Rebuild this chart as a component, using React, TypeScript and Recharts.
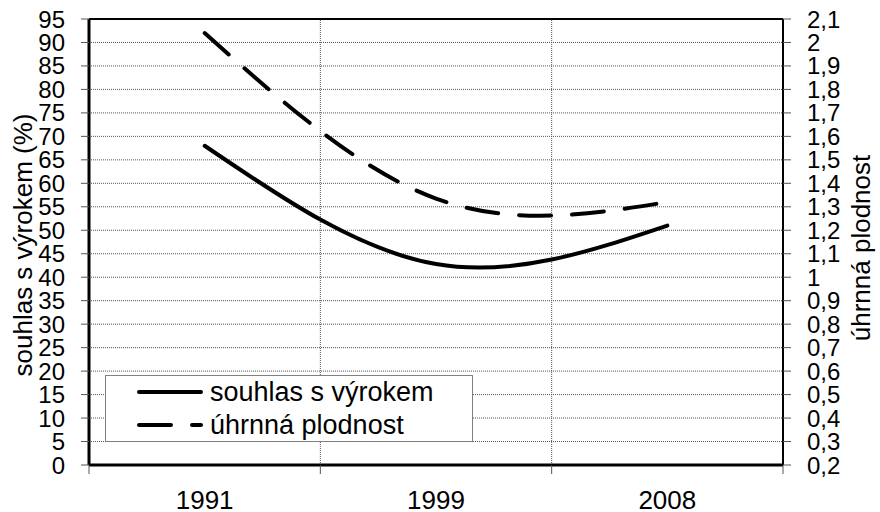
import React from 'react';
import {
  ComposedChart,
  Line,
  XAxis,
  YAxis,
  CartesianGrid,
  ReferenceLine,
  Legend,
} from 'recharts';

const years = ['1991', '1999', '2008'];
const agreement = [68, 42.8, 51]; // souhlas s výrokem (%)
const fertility = [2.04, 1.335, 1.32]; // úhrnná plodnost

const leftTicks = [0, 5, 10, 15, 20, 25, 30, 35, 40, 45, 50, 55, 60, 65, 70, 75, 80, 85, 90, 95];
const rightTicks = [0.2, 0.3, 0.4, 0.5, 0.6, 0.7, 0.8, 0.9, 1, 1.1, 1.2, 1.3, 1.4, 1.5, 1.6, 1.7, 1.8, 1.9, 2, 2.1];
const xTicks = [0, 0.5, 1, 1.5, 2, 2.5, 3];
const categoryEdges = [1, 2];

const series = [
  { key: 'agreement', name: 'souhlas s výrokem', axis: 'left', dash: undefined as string | undefined },
  { key: 'fertility', name: 'úhrnná plodnost', axis: 'right', dash: '32 21' },
];

const data = years.map((year, i) => ({
  pos: i + 0.5,
  year,
  agreement: agreement[i],
  fertility: fertility[i],
}));

const FONT = '"Liberation Sans", Arial, sans-serif';

const XTick = (props: any) => {
  const { x, y, payload } = props;
  const v = payload.value;
  if (Number.isInteger(v)) {
    return <line x1={x} y1={y} x2={x} y2={y + 9} stroke="#555" strokeWidth={1} />;
  }
  const idx = Math.floor(v);
  return (
    <text x={x} y={y + 44} textAnchor="middle" fontSize={26} fontFamily={FONT} fill="#000">
      {years[idx]}
    </text>
  );
};

const LegendBox = () => (
  <div
    style={{
      width: 368,
      height: 67,
      boxSizing: 'border-box',
      border: '1px solid #808080',
      background: '#fff',
    }}
  >
    <svg width={366} height={65}>
      {series.map((s, i) => {
        const cy = 16 + i * 33;
        return (
          <g key={s.key}>
            <line
              x1={33}
              y1={cy}
              x2={95}
              y2={cy}
              stroke="#000"
              strokeWidth={4}
              strokeLinecap="round"
              strokeDasharray={s.dash}
            />
            <text x={104} y={cy} dy="0.33em" fontSize={27} fontFamily={FONT} fill="#000">
              {s.name}
            </text>
          </g>
        );
      })}
    </svg>
  </div>
);

const LeftTitle = (props: any) => {
  const { viewBox } = props;
  const cy = viewBox.y + viewBox.height / 2 + 3;
  return (
    <text
      x={32}
      y={cy}
      transform={`rotate(-90, 32, ${cy})`}
      textAnchor="middle"
      fontSize={26}
      fontFamily={FONT}
      fill="#000"
    >
      souhlas s výrokem (%)
    </text>
  );
};

const RightTitle = (props: any) => {
  const { viewBox } = props;
  const cy = viewBox.y + viewBox.height / 2 + 6;
  return (
    <text
      x={870}
      y={cy}
      transform={`rotate(-90, 870, ${cy})`}
      textAnchor="middle"
      fontSize={26}
      fontFamily={FONT}
      fill="#000"
    >
      úhrnná plodnost
    </text>
  );
};

export default function App() {
  return (
    <div style={{ position: 'absolute', left: 0, top: 0, width: 880, height: 512, background: '#fff' }}>
      <ComposedChart
        width={880}
        height={512}
        data={data}
        margin={{ top: 19, right: 0, bottom: 0, left: 0 }}
      >
        <CartesianGrid
          yAxisId="left"
          vertical={false}
          stroke="#555"
          strokeDasharray="1 1"
        />
        <XAxis
          dataKey="pos"
          type="number"
          domain={[0, 3]}
          ticks={xTicks}
          interval={0}
          height={47}
          tickLine={false}
          tickSize={0}
          tickMargin={0}
          axisLine={{ stroke: '#000', strokeWidth: 3 }}
          tick={<XTick />}
        />
        <YAxis
          yAxisId="left"
          orientation="left"
          width={89}
          domain={[0, 95]}
          ticks={leftTicks}
          interval={0}
          tickSize={8}
          tickMargin={16}
          tickLine={{ stroke: '#555' }}
          axisLine={{ stroke: '#000', strokeWidth: 3 }}
          tick={{ fontSize: 24, fontFamily: FONT, fill: '#000' }}
          label={<LeftTitle />}
        />
        <YAxis
          yAxisId="right"
          orientation="right"
          width={97}
          domain={[0.2, 2.1]}
          ticks={rightTicks}
          interval={0}
          tickSize={8}
          tickMargin={16}
          tickLine={{ stroke: '#555' }}
          axisLine={{ stroke: '#000', strokeWidth: 2 }}
          tick={{ fontSize: 24, fontFamily: FONT, fill: '#000', textAnchor: 'start' }}
          tickFormatter={(v: number) => String(v).replace('.', ',')}
          label={<RightTitle />}
        />
        {categoryEdges.map((e) => (
          <ReferenceLine
            key={e}
            x={e}
            yAxisId="left"
            stroke="#555"
            strokeDasharray="1 1"
          />
        ))}
        <ReferenceLine yAxisId="left" y={95} stroke="#000" strokeWidth={2} />
        {series.map((s) => (
          <Line
            key={s.key}
            yAxisId={s.axis}
            dataKey={s.key}
            name={s.name}
            type="natural"
            stroke="#000"
            strokeWidth={4}
            strokeLinecap="round"
            strokeDasharray={s.dash}
            dot={false}
            activeDot={false}
            isAnimationActive={false}
          />
        ))}
        <Legend
          layout="vertical"
          align="center"
          verticalAlign="middle"
          content={<LegendBox />}
          wrapperStyle={{ left: 105, top: 375, width: 368, height: 67 }}
        />
      </ComposedChart>
    </div>
  );
}
